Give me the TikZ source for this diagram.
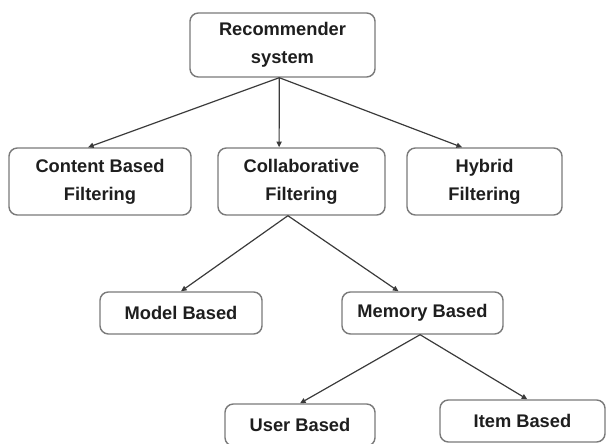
\documentclass[tikz,border=0pt]{standalone}
\usepackage{fontspec}
\setmainfont{Liberation Sans}
\usetikzlibrary{arrows.meta}
\definecolor{boxline}{HTML}{7A7A7A}
\definecolor{arrowline}{HTML}{3A3A3A}
\definecolor{textdark}{HTML}{1E1E1E}

\begin{document}
\begin{tikzpicture}[
    x=0.025cm, y=-0.025cm,
    >={Triangle[length=4pt, width=3.6pt]},
    every node/.style={inner sep=0pt},
    catbox/.style={
        draw=boxline, line width=1pt, rounded corners=6pt,
        fill=white, align=center, text=textdark,
        font=\fontsize{13}{20}\selectfont\bfseries
    },
    arrstyle/.style={->, line width=0.85pt, arrowline},
]
\useasboundingbox (0,0) rectangle (606,444);
\clip (0,0) rectangle (606,444);

% ============ ROOT ============
\node[catbox, minimum width=4.625cm, minimum height=1.6cm] (rec) at (282.5,45) {Recommender\\system};

% ============ LEVEL 1: filtering approaches ============
\node[catbox, minimum width=4.55cm, minimum height=1.675cm] (content) at (100,181.5) {Content Based\\Filtering};
\node[catbox, minimum width=4.175cm, minimum height=1.675cm] (collab) at (301.5,181.5) {Collaborative\\Filtering};
\node[catbox, minimum width=3.875cm, minimum height=1.675cm] (hybrid) at (484.5,181.5) {Hybrid\\Filtering};

% ============ LEVEL 2: collaborative filtering ============
\node[catbox, minimum width=4.05cm, minimum height=1.05cm] (model) at (181,313) {Model Based};
\node[catbox, minimum width=4.025cm, minimum height=1.05cm] (memory) at (422.5,313) {Memory Based};

% ============ LEVEL 3: memory based ============
\node[catbox, minimum width=3.75cm, minimum height=1.05cm] (user) at (300,425) {User Based};
\node[catbox, minimum width=4.125cm, minimum height=1.05cm] (item) at (522.5,421) {Item Based};

% Arrows
\draw[arrstyle] ([xshift=-0.08cm]rec.south) -- ([xshift=-0.3cm]content.north);
\draw[arrstyle] ([xshift=-0.08cm]rec.south) -- ([xshift=-0.56cm]collab.north);
\draw[arrstyle] ([xshift=-0.08cm]rec.south) -- ([xshift=-0.56cm]hybrid.north);

\draw[arrstyle] ([xshift=-0.34cm]collab.south) -- (model.north);
\draw[arrstyle] ([xshift=-0.34cm]collab.south) -- ([xshift=-0.6cm]memory.north);

\draw[arrstyle] ([xshift=-0.06cm]memory.south) -- (user.north);
\draw[arrstyle] ([xshift=-0.06cm]memory.south) -- ([xshift=0.12cm]item.north);

\end{tikzpicture}
\end{document}
